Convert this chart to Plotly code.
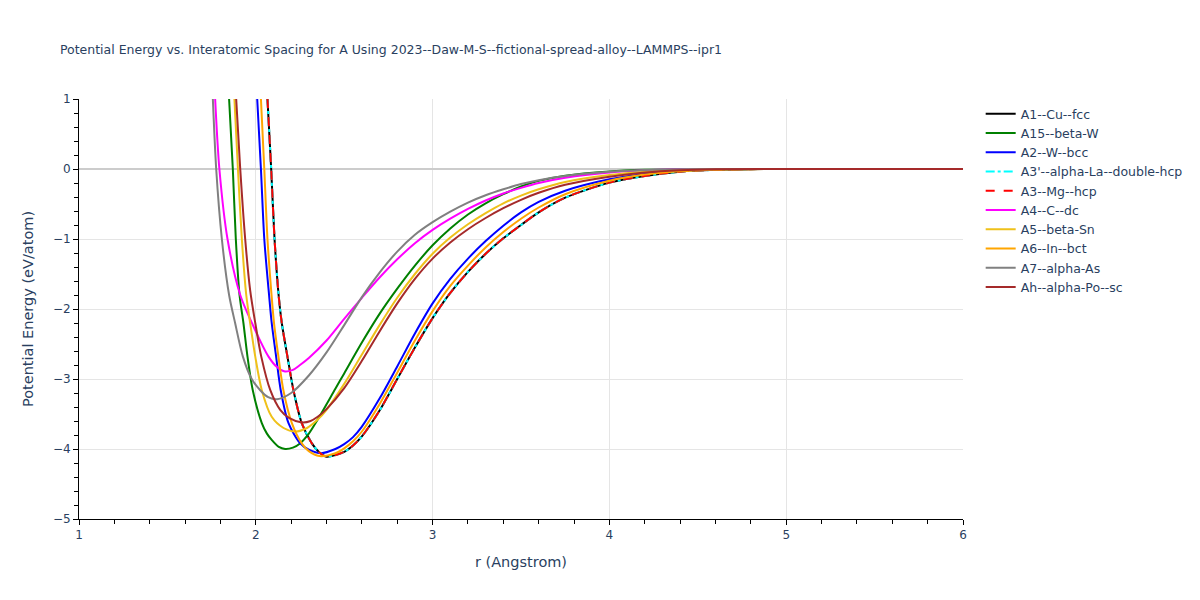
import plotly.graph_objects as go

# values (r in Angstrom, E in eV/atom)
r_a15 = [1.849, 1.870, 1.887, 1.908, 1.930, 1.953, 1.983, 2.034, 2.063, 2.090, 2.13, 2.166, 2.21, 2.25, 2.30, 2.35, 2.45, 2.5, 2.6, 2.7, 2.8, 2.9, 3.0, 3.1, 3.2, 3.3, 3.4, 3.5, 3.6, 3.75, 4.0, 4.2, 4.4, 5.0, 6.0]
e_a15 = [1.0, 0.0, -1.0, -1.8, -2.2, -2.68, -3.16, -3.63, -3.78, -3.87, -3.97, -4.0, -3.98, -3.92, -3.78, -3.58, -3.14, -2.92, -2.48, -2.07, -1.71, -1.38, -1.09, -0.85, -0.65, -0.49, -0.36, -0.25, -0.17, -0.095, -0.035, -0.012, -0.003, 0.0, 0.0]

r_a2 = [2.008, 2.029, 2.048, 2.075, 2.090, 2.115, 2.141, 2.185, 2.251, 2.30, 2.37, 2.45, 2.5, 2.55, 2.6, 2.7, 2.8, 2.9, 3.0, 3.1, 3.2, 3.3, 3.4, 3.5, 3.6, 3.75, 4.0, 4.2, 4.4, 4.6, 4.8, 5.0, 6.0]
e_a2 = [1.0, 0.0, -1.0, -1.8, -2.2, -2.68, -3.16, -3.63, -3.92, -4.01, -4.06, -4.00, -3.93, -3.83, -3.68, -3.28, -2.82, -2.35, -1.92, -1.57, -1.28, -1.03, -0.81, -0.62, -0.47, -0.31, -0.147, -0.07, -0.03, -0.008, -0.001, 0.0, 0.0]

# A1, A3' and A3 coincide in the picture
r_a3 = [2.066, 2.087, 2.106, 2.129, 2.147, 2.179, 2.213, 2.260, 2.317, 2.36, 2.40, 2.5, 2.55, 2.6, 2.7, 2.8, 2.9, 3.0, 3.1, 3.2, 3.3, 3.4, 3.5, 3.6, 3.75, 4.0, 4.2, 4.4, 4.6, 4.8, 5.0, 6.0]
e_a3 = [1.0, 0.0, -1.0, -1.8, -2.2, -2.68, -3.16, -3.63, -3.92, -4.05, -4.11, -4.04, -3.95, -3.82, -3.45, -3.00, -2.55, -2.13, -1.77, -1.47, -1.21, -0.99, -0.80, -0.62, -0.41, -0.195, -0.10, -0.038, -0.012, -0.002, 0.0, 0.0]

r_a4 = [1.770, 1.794, 1.840, 1.912, 1.978, 2.072, 2.12, 2.16, 2.21, 2.25, 2.3, 2.4, 2.5, 2.6, 2.7, 2.8, 2.9, 3.0, 3.1, 3.2, 3.3, 3.4, 3.5, 3.6, 3.75, 4.0, 4.2, 4.4, 4.6, 5.0, 6.0]
e_a4 = [1.0, 0.0, -1.0, -1.8, -2.2, -2.68, -2.83, -2.89, -2.87, -2.80, -2.70, -2.45, -2.14, -1.84, -1.55, -1.29, -1.06, -0.87, -0.71, -0.57, -0.45, -0.35, -0.27, -0.20, -0.125, -0.05, -0.018, -0.005, -0.001, 0.0, 0.0]

r_a5 = [1.879, 1.899, 1.921, 1.946, 1.968, 1.997, 2.034, 2.090, 2.157, 2.223, 2.29, 2.35, 2.4, 2.5, 2.6, 2.7, 2.8, 2.9, 3.0, 3.1, 3.2, 3.3, 3.4, 3.5, 3.6, 3.75, 4.0, 4.2, 4.4, 4.6, 5.0, 6.0]
e_a5 = [1.0, 0.0, -1.0, -1.8, -2.2, -2.68, -3.16, -3.54, -3.70, -3.75, -3.70, -3.58, -3.44, -3.07, -2.65, -2.23, -1.84, -1.50, -1.21, -0.98, -0.79, -0.63, -0.49, -0.38, -0.29, -0.185, -0.086, -0.038, -0.013, -0.003, 0.0, 0.0]

r_a6 = [2.029, 2.048, 2.066, 2.089, 2.103, 2.128, 2.156, 2.204, 2.26, 2.30, 2.36, 2.45, 2.5, 2.55, 2.6, 2.7, 2.8, 2.9, 3.0, 3.1, 3.2, 3.3, 3.4, 3.5, 3.6, 3.75, 4.0, 4.2, 4.4, 4.6, 4.8, 5.0, 6.0]
e_a6 = [1.0, 0.0, -1.0, -1.8, -2.2, -2.68, -3.16, -3.63, -3.92, -4.03, -4.10, -4.06, -3.99, -3.89, -3.75, -3.36, -2.91, -2.45, -2.03, -1.67, -1.38, -1.12, -0.90, -0.71, -0.55, -0.36, -0.167, -0.08, -0.033, -0.01, -0.002, 0.0, 0.0]

r_a7 = [1.757, 1.776, 1.808, 1.849, 1.883, 1.927, 1.977, 2.025, 2.07, 2.12, 2.2, 2.3, 2.4, 2.5, 2.6, 2.7, 2.8, 2.9, 3.0, 3.1, 3.2, 3.3, 3.4, 3.5, 3.6, 3.75, 4.0, 4.2, 4.4, 5.0, 6.0]
e_a7 = [1.0, 0.0, -1.0, -1.8, -2.2, -2.68, -3.0, -3.16, -3.26, -3.29, -3.20, -2.95, -2.62, -2.23, -1.83, -1.48, -1.18, -0.94, -0.76, -0.61, -0.48, -0.375, -0.29, -0.215, -0.16, -0.10, -0.04, -0.013, -0.003, 0.0, 0.0]

r_ah = [1.889, 1.912, 1.940, 1.968, 1.997, 2.031, 2.082, 2.138, 2.19, 2.261, 2.31, 2.35, 2.4, 2.5, 2.6, 2.7, 2.8, 2.9, 3.0, 3.1, 3.2, 3.3, 3.4, 3.5, 3.6, 3.75, 4.0, 4.2, 4.4, 4.6, 5.0, 6.0]
e_ah = [1.0, 0.0, -1.0, -1.73, -2.2, -2.68, -3.16, -3.44, -3.56, -3.62, -3.60, -3.54, -3.43, -3.13, -2.74, -2.32, -1.92, -1.57, -1.28, -1.05, -0.86, -0.70, -0.56, -0.44, -0.34, -0.225, -0.11, -0.05, -0.018, -0.004, 0.0, 0.0]

names = ["A1--Cu--fcc", "A15--beta-W", "A2--W--bcc", "A3'--alpha-La--double-hcp",
         "A3--Mg--hcp", "A4--C--dc", "A5--beta-Sn", "A6--In--bct", "A7--alpha-As",
         "Ah--alpha-Po--sc"]
colors = ["black", "green", "blue", "cyan", "red", "magenta", "#efc11a", "orange",
          "gray", "brown"]
dashes = ["solid", "solid", "solid", "dashdot", "dash", "solid", "solid", "solid",
          "solid", "solid"]
curves = [(r_a3, e_a3), (r_a15, e_a15), (r_a2, e_a2), (r_a3, e_a3), (r_a3, e_a3),
          (r_a4, e_a4), (r_a5, e_a5), (r_a6, e_a6), (r_a7, e_a7), (r_ah, e_ah)]

fig = go.Figure()
for name, col, dash, (r, e) in zip(names, colors, dashes, curves):
    fig.add_trace(go.Scatter(
        x=r, y=e, name=name, mode="lines",
        line=dict(color=col, dash=dash, width=2, shape="spline", smoothing=0.8),
    ))

axis_style = dict(
    showline=True, linecolor="black", linewidth=1,
    ticks="outside", ticklen=5, tickcolor="black",
    gridcolor="#e5e5e5", zeroline=False,
    minor=dict(ticks="outside", ticklen=4, tickcolor="black", nticks=5, showgrid=False),
    tickfont=dict(size=12, color="#2a3f5f"),
)

fig.update_layout(
    width=1200, height=600,
    plot_bgcolor="white", paper_bgcolor="white",
    font=dict(family="DejaVu Sans, Verdana, sans-serif", color="#2a3f5f"),
    title=dict(text="Potential Energy vs. Interatomic Spacing for A Using 2023--Daw-M-S--fictional-spread-alloy--LAMMPS--ipr1",
               font=dict(size=12.5), x=0.0433, y=0.931, yanchor="middle"),
    margin=dict(l=71, r=245, t=91, b=89),
    legend=dict(font=dict(size=12.5)),
)
fig.update_xaxes(axis_style, range=[1, 6], dtick=1,
                 title=dict(text="r (Angstrom)", font=dict(size=14.5)))
fig.update_yaxes(axis_style, range=[-5, 1], dtick=1,
                 zeroline=True, zerolinecolor="#cccccc", zerolinewidth=2,
                 title=dict(text="Potential Energy (eV/atom)", font=dict(size=14.5)))

fig.write_html("out.html")
